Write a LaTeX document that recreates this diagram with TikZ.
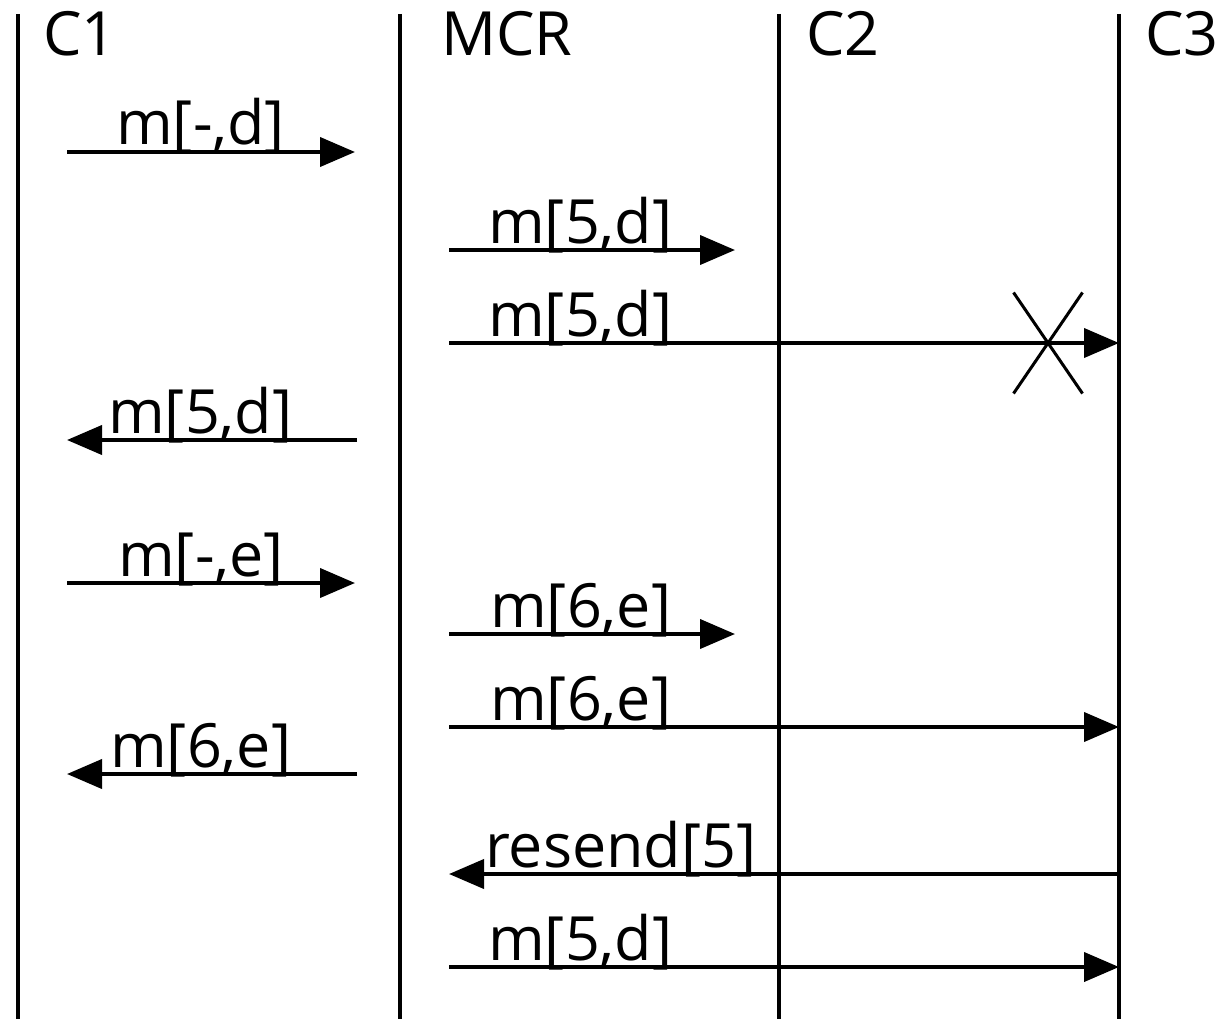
\documentclass[tikz,border=0pt]{standalone}
\usepackage{fontspec}
\setmainfont{Open Sans}
\usetikzlibrary{arrows.meta,shapes.misc}

\begin{document}
\begin{tikzpicture}[x=1pt, y=-1pt,
        lifeline/.style={line width=4pt},
        msg/.style={line width=4pt, -{Triangle[length=35pt,width=29pt]}},
        lbl/.style={anchor=base west, inner sep=0pt, font=\fontsize{61}{66}\selectfont},
        lost/.style={cross out, draw, line width=3pt, inner sep=0pt,
            minimum width=66pt, minimum height=98pt}
        ]
    \useasboundingbox (0,0) rectangle (1222,1019);

    % lifelines with their names
    \foreach \name/\x/\dx in {C1/18/25, MCR/400/41, C2/779/27, C3/1119/26} {
        \coordinate (\name-top) at (\x,14);
        \coordinate (\name-bot) at (\x,1019);
        \draw[lifeline] (\name-top) -- (\name-bot);
        \node[lbl] (\name) at (\x+\dx,56) {\name};
    }

    % messages: number / from / to / height / label x / label
    \foreach \i/\xa/\xb/\y/\lx/\txt in {
            1/67/355/152/116/{m[-,d]},
            2/449/735/250/488/{m[5,d]},
            3/449/1119/343/488/{m[5,d]},
            4/357/67/440/108/{m[5,d]},
            5/67/355/583/118/{m[-,e]},
            6/449/735/634/490/{m[6,e]},
            7/449/1119/727/490/{m[6,e]},
            8/357/67/774/110/{m[6,e]},
            9/1119/449/874/485/{resend[5]},
            10/449/1119/967/488/{m[5,d]}} {
        \coordinate (m\i-s) at (\xa,\y);
        \coordinate (m\i-e) at (\xb,\y);
        \draw[msg] (m\i-s) -- (m\i-e);
        \node[lbl] (m\i-txt) at (\lx,\y-7) {\txt};
    }

    % the copy to C3 gets lost
    \node[lost] (loss) at (1048,343) {};
\end{tikzpicture}
\end{document}
